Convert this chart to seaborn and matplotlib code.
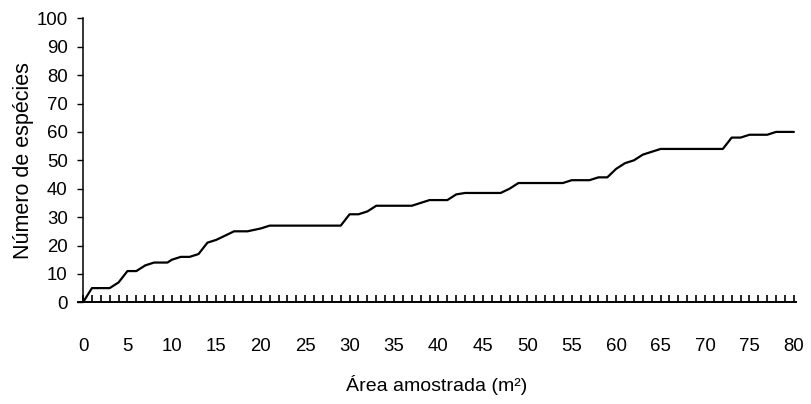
# Curva espécie-área
import matplotlib
matplotlib.use("Agg")
import matplotlib.pyplot as plt
import seaborn as sns
from matplotlib.ticker import MultipleLocator

# Data
area = [0, 1, 3, 4, 5, 6, 7, 8, 9.5, 10, 11, 12, 13, 14, 15, 16, 17, 18.5, 20, 21,
        29, 30, 31, 32, 33, 37, 38, 39, 41, 42, 43, 47, 48, 49, 54, 55, 57, 58, 59, 60,
        61, 62, 63, 64, 65, 72, 73, 74, 75, 77, 78, 80]
especies = [0, 5, 5, 7, 11, 11, 13, 14, 14, 15, 16, 16, 17, 21, 22, 23.5, 25, 25, 26, 27,
            27, 31, 31, 32, 34, 34, 35, 36, 36, 38, 38.5, 38.5, 40, 42, 42, 43, 43, 44, 44, 47,
            49, 50, 52, 53, 54, 54, 58, 58, 59, 59, 60, 60]

x_ticks = list(range(0, 81, 5))
y_ticks = list(range(0, 101, 10))

sns.set_style("white")
plt.rcParams['font.family'] = ['Liberation Sans', 'DejaVu Sans']
plt.rcParams['text.color'] = "black"
plt.rcParams['axes.labelcolor'] = "black"
plt.rcParams['xtick.color'] = "black"
plt.rcParams['ytick.color'] = "black"

fig = plt.figure(figsize=(8.11, 4.04), dpi=100)
ax = fig.add_axes([0.0958, 0.2517, 0.8853, 0.703])

sns.lineplot(x=area, y=especies, color="black", linewidth=1.6, sort=False, ax=ax)

ax.set_xlim(-0.6, 80.2)
ax.set_ylim(0, 100)

# spines
ax.spines['top'].set_visible(False)
ax.spines['right'].set_visible(False)
ax.spines['left'].set_position(('data', 0))
ax.spines['left'].set_linewidth(1.1)
ax.spines['bottom'].set_linewidth(1.4)
ax.spines['left'].set_color("black")
ax.spines['bottom'].set_color("black")

# ticks
ax.set_xticks(x_ticks)
ax.set_xticklabels([str(v) for v in x_ticks])
ax.xaxis.set_minor_locator(MultipleLocator(1))
ax.tick_params(axis='x', which='both', direction='in', length=5, width=1.2,
               color="black", pad=26, labelsize=13.4, bottom=True)
ax.set_yticks(y_ticks)
ax.tick_params(axis='y', which='major', direction='out', length=4, width=1.0,
               color="black", pad=7, labelsize=13.4, left=True)

ax.set_xlabel("Área amostrada (m²)", fontsize=14, labelpad=14)
ax.set_ylabel("Número de espécies", fontsize=15.5, labelpad=2)

plt.savefig("out.png", dpi=100)
